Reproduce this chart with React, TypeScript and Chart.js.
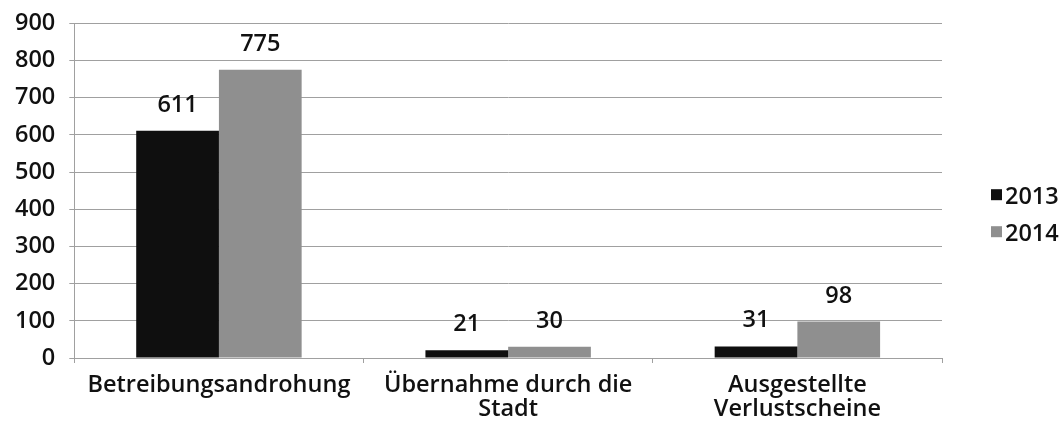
import React, { useEffect, useRef } from "react";
import { Chart, registerables } from "chart.js";

Chart.register(...registerables);

const categories: (string | string[])[] = [
  "Betreibungsandrohung",
  ["Übernahme durch die", "Stadt"],
  ["Ausgestellte", "Verlustscheine"],
];
const seriesNames = ["2013", "2014"];
const values2013 = [611, 21, 31];
const values2014 = [775, 30, 98];
const colors = ["#0f0f0f", "#8f8f8f"];
const yTicks = { min: 0, max: 900, step: 100 };

const FONT = "'Open Sans', 'Noto Sans', sans-serif";
const FS = 23.5;
const FW = "550";

const dataLabels = {
  id: "dataLabels",
  afterDatasetsDraw(chart: any) {
    const ctx = chart.ctx;
    ctx.save();
    ctx.font = `${FW} ${FS}px ${FONT}`;
    ctx.fillStyle = "#111";
    ctx.textAlign = "center";
    ctx.textBaseline = "alphabetic";
    chart.data.datasets.forEach((ds: any, i: number) => {
      const meta = chart.getDatasetMeta(i);
      meta.data.forEach((bar: any, j: number) => {
        ctx.fillText(String(ds.data[j]), bar.x, bar.y - 19);
      });
    });
    ctx.restore();
  },
};

const sideLegend = {
  id: "sideLegend",
  afterDraw(chart: any) {
    const ctx = chart.ctx;
    const area = chart.chartArea;
    ctx.save();
    ctx.font = `${FW} ${FS}px ${FONT}`;
    ctx.textBaseline = "middle";
    ctx.textAlign = "left";
    const n = chart.data.datasets.length;
    const spacing = 37;
    const midY = (area.top + area.bottom) / 2 + 25;
    const startY = midY - ((n - 1) * spacing) / 2;
    const bx = area.right + 49;
    chart.data.datasets.forEach((ds: any, i: number) => {
      const y = startY + i * spacing;
      ctx.fillStyle = ds.backgroundColor;
      ctx.fillRect(bx, y - 8, 11, 11);
      ctx.fillStyle = "#111";
      ctx.fillText(ds.label, bx + 14, y);
    });
    ctx.restore();
  },
};

export default function App() {
  const ref = useRef<HTMLCanvasElement | null>(null);
  useEffect(() => {
    if (!ref.current) return;
    const chart = new Chart(ref.current, {
      type: "bar",
      data: {
        labels: categories,
        datasets: [
          { label: seriesNames[0], data: values2013, backgroundColor: colors[0] },
          { label: seriesNames[1], data: values2014, backgroundColor: colors[1] },
        ],
      },
      options: {
        animation: false,
        responsive: true,
        maintainAspectRatio: false,
        layout: { padding: { top: 12, right: 119, left: 1, bottom: -11 } },
        datasets: {
          bar: { categoryPercentage: 0.572, barPercentage: 1.0 },
        },
        plugins: {
          legend: { display: false },
          tooltip: { enabled: false },
        },
        scales: {
          x: {
            grid: {
              display: true,
              drawOnChartArea: false,
              offset: true,
              tickLength: 5,
              color: "#a0a0a0",
            },
            border: { display: true, color: "#a0a0a0" },
            ticks: {
              color: "#111",
              padding: 11,
              maxRotation: 0,
              font: { family: FONT, size: FS, weight: FW as any, lineHeight: 1.0 },
            },
          },
          y: {
            min: yTicks.min,
            max: yTicks.max,
            grid: { color: "#a0a0a0", tickLength: 5 },
            border: { display: true, color: "#a0a0a0" },
            ticks: {
              stepSize: yTicks.step,
              color: "#111",
              padding: 14,
              font: { family: FONT, size: FS, weight: FW as any, lineHeight: 0.8 },
            },
          },
        },
      },
      plugins: [dataLabels, sideLegend],
    });
    return () => chart.destroy();
  }, []);
  return (
    <div style={{ position: "fixed", left: 0, top: 0, width: 1061, height: 421, background: "#fff" }}>
      <canvas ref={ref} />
    </div>
  );
}
